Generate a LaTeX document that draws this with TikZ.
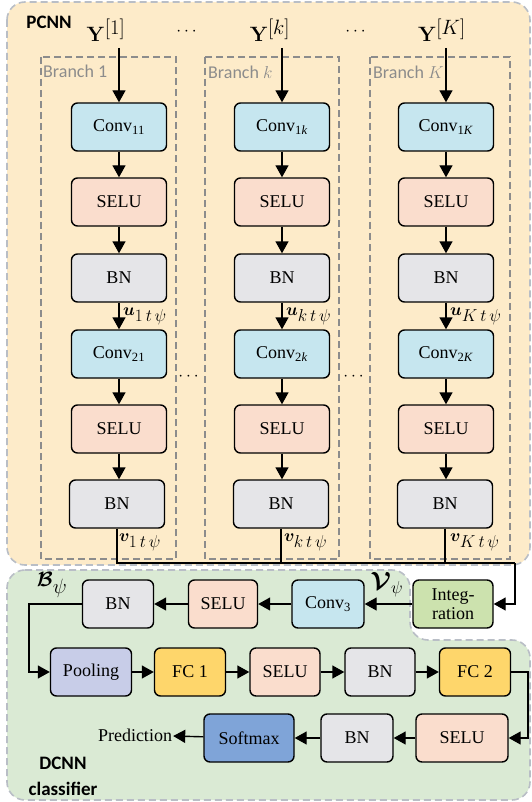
\documentclass[tikz,border=0pt]{standalone}
\usepackage[no-math]{fontspec}
\setmainfont{Liberation Serif}
\newfontfamily\labelfont{Carlito}
\usepackage{amsmath,bm}
\usetikzlibrary{arrows.meta}

\definecolor{pcnnbg}{HTML}{FDEBC9}
\definecolor{dcnnbg}{HTML}{DAEAD4}
\definecolor{convcol}{HTML}{C6E6EF}
\definecolor{selucol}{HTML}{FADDCD}
\definecolor{bncol}{HTML}{E5E5E8}
\definecolor{intcol}{HTML}{CCE2AE}
\definecolor{poolcol}{HTML}{C8CDE8}
\definecolor{fccol}{HTML}{FED66B}
\definecolor{softcol}{HTML}{7FA4D8}
\definecolor{regionline}{HTML}{B9BEC6}
\definecolor{branchline}{HTML}{8C8C8C}

\tikzset{
  block/.style={draw, line width=1.4pt, rounded corners=6pt, minimum width=95pt, minimum height=48pt, align=center, inner sep=2pt, font=\fontsize{18}{19}\selectfont},
  convblock/.style={block, fill=convcol},
  selublock/.style={block, fill=selucol},
  bnblock/.style={block, fill=bncol},
  flow/.style={-{Triangle[length=12pt,width=13pt]}, line width=1.4pt},
  wire/.style={line width=1.4pt},
  region/.style={draw=regionline, line width=1.6pt, dash pattern=on 7pt off 4pt, rounded corners=18pt},
  branchbox/.style={draw=branchline, line width=1.3pt, dash pattern=on 7pt off 4pt},
  branchlabel/.style={anchor=west, text=branchline, inner sep=0pt, font=\labelfont\fontsize{18}{20}\selectfont},
  mathlabel/.style={inner sep=0pt, font=\fontsize{18}{20}\selectfont},
  inputlabel/.style={inner sep=0pt, font=\fontsize{21}{23}\selectfont},
}

\begin{document}
\begin{tikzpicture}[x=1pt, y=-1pt]
\useasboundingbox (0,0) rectangle (531,802);

% regions
\fill[pcnnbg, rounded corners=18pt] (7,2) rectangle (530,565);
\draw[region] (7,2) rectangle (530,565);
\fill[dcnnbg, rounded corners=18pt] (7,570) -- (410,570) -- (410,640) -- (530,640) -- (530,800) -- (7,800) -- cycle;
\draw[region] (7,570) -- (410,570) -- (410,640) -- (530,640) -- (530,800) -- (7,800) -- cycle;

\node[inner sep=0pt, font=\labelfont\bfseries\fontsize{19}{21}\selectfont] (pcnn) at (49,22) {PCNN};
\node[align=center, inner sep=0pt, font=\labelfont\bfseries\fontsize{19}{26}\selectfont] (dcnn) at (63,776) {DCNN\\classifier};

% branches
\draw[branchbox] (41,57) rectangle (176,559);
\draw[branchbox] (205,57) rectangle (339,559);
\draw[branchbox] (370,57) rectangle (510,559);
\node[branchlabel] (lab1) at (43,71) {Branch 1};
\node[branchlabel] (labk) at (208,72) {Branch $k$};
\node[branchlabel] (labK) at (373,72) {Branch $K$};

% inputs
\node[inputlabel] (y1) at (106,30) {$\mathbf{Y}^{\textstyle[1]}$};
\node[inputlabel] (yk) at (270,30) {$\mathbf{Y}^{\textstyle[k]}$};
\node[inputlabel] (yK) at (442,30) {$\mathbf{Y}^{\textstyle[K]}$};
\node[mathlabel] (dots1) at (188,32) {$\cdots$};
\node[mathlabel] (dots2) at (357,32) {$\cdots$};
\node[mathlabel] (dots3) at (190,377) {$\cdots$};
\node[mathlabel] (dots4) at (355,377) {$\cdots$};
\coordinate (in1) at (119,48);
\coordinate (ink) at (282,48);
\coordinate (inK) at (446,48);

% branch 1
\node[convblock] (c11) at (119,127) {Conv\textsubscript{11}};
\node[selublock] (s11) at (119,202) {SELU};
\node[bnblock] (b11) at (119,278) {BN};
\node[convblock] (c21) at (119,354) {Conv\textsubscript{21}};
\node[selublock] (s21) at (119,429) {SELU};
\node[bnblock] (b21) at (117,504) {BN};

% branch k
\node[convblock] (c1k) at (282,127) {Conv\textsubscript{1\textit{k}}};
\node[selublock] (s1k) at (282,202) {SELU};
\node[bnblock] (b1k) at (282,278) {BN};
\node[convblock] (c2k) at (282,354) {Conv\textsubscript{2\textit{k}}};
\node[selublock] (s2k) at (282,429) {SELU};
\node[bnblock] (b2k) at (281,504) {BN};

% branch K
\node[convblock] (c1K) at (446,127) {Conv\textsubscript{1\textit{K}}};
\node[selublock] (s1K) at (446,202) {SELU};
\node[bnblock] (b1K) at (446,278) {BN};
\node[convblock] (c2K) at (446,354) {Conv\textsubscript{2\textit{K}}};
\node[selublock] (s2K) at (446,429) {SELU};
\node[bnblock] (b2K) at (445,504) {BN};

\draw[flow] (in1) -- (c11);
\draw[flow] (c11) -- (s11);
\draw[flow] (s11) -- (b11);
\draw[flow] (b11) -- (c21);
\draw[flow] (c21) -- (s21);
\draw[flow] (s21) -- (b21.north -| s21.south);
\draw[flow] (ink) -- (c1k);
\draw[flow] (c1k) -- (s1k);
\draw[flow] (s1k) -- (b1k);
\draw[flow] (b1k) -- (c2k);
\draw[flow] (c2k) -- (s2k);
\draw[flow] (s2k) -- (b2k.north -| s2k.south);
\draw[flow] (inK) -- (c1K);
\draw[flow] (c1K) -- (s1K);
\draw[flow] (s1K) -- (b1K);
\draw[flow] (b1K) -- (c2K);
\draw[flow] (c2K) -- (s2K);
\draw[flow] (s2K) -- (b2K.north -| s2K.south);

\node[mathlabel, anchor=west] (u1) at (123,316) {$\bm{u}_{\textstyle 1\,t\,\psi}$};
\node[mathlabel, anchor=west] (uk) at (286,316) {$\bm{u}_{\textstyle k\,t\,\psi}$};
\node[mathlabel, anchor=west] (uK) at (450,316) {$\bm{u}_{\textstyle K\,t\,\psi}$};
\node[mathlabel, anchor=west] (v1) at (119,542) {$\bm{v}_{\textstyle 1\,t\,\psi}$};
\node[mathlabel, anchor=west] (vk) at (284,542) {$\bm{v}_{\textstyle k\,t\,\psi}$};
\node[mathlabel, anchor=west] (vK) at (450,542) {$\bm{v}_{\textstyle K\,t\,\psi}$};

% DCNN classifier
\node[block, fill=intcol, minimum width=80pt] (integ) at (453,604) {Integ-\\ration};
\node[convblock, minimum width=72pt] (c3) at (328,604) {Conv\textsubscript{3}};
\node[selublock, minimum width=69pt] (s3) at (223,604) {SELU};
\node[bnblock, minimum width=71pt] (b3) at (118,604) {BN};
\node[inner sep=0pt, font=\fontsize{24}{26}\selectfont] (vpsi) at (387,585) {$\bm{\mathcal{V}}_{\psi}$};
\node[inner sep=0pt, font=\fontsize{21}{23}\selectfont] (bpsi) at (52,585) {$\bm{\mathcal{B}}_{\textstyle\psi}$};

\node[block, fill=poolcol, minimum width=81pt] (pool) at (91,672) {Pooling};
\node[block, fill=fccol, minimum width=71pt] (fc1) at (190,672) {FC 1};
\node[selublock, minimum width=70pt] (s4) at (285,672) {SELU};
\node[bnblock, minimum width=70pt] (b4) at (380,672) {BN};
\node[block, fill=fccol, minimum width=71pt] (fc2) at (475,672) {FC 2};

\node[selublock, minimum width=92pt] (s5) at (462,738) {SELU};
\node[bnblock, minimum width=72pt] (b5) at (357,738) {BN};
\node[block, fill=softcol, minimum width=90pt] (soft) at (249,738) {Softmax};
\node[inner sep=1pt, font=\fontsize{18}{20}\selectfont] (pred) at (135,735) {Prediction};

\coordinate (jright) at (515,563);
\coordinate (lturn) at (29,604);
\coordinate (rturn) at (528,672);

\draw[wire] (b21.south) |- (jright);
\draw[wire] (b2k.south) -- (b2k.south |- jright);
\draw[wire] (b2K.south) -- (b2K.south |- jright);
\draw[flow] (jright) |- (integ.east);
\draw[flow] (integ) -- (c3);
\draw[flow] (c3) -- (s3);
\draw[flow] (s3) -- (b3);
\draw[flow] (b3.west) -- (lturn) |- (pool.west);
\draw[flow] (pool) -- (fc1);
\draw[flow] (fc1) -- (s4);
\draw[flow] (s4) -- (b4);
\draw[flow] (b4) -- (fc2);
\draw[flow] (fc2.east) -- (rturn) |- (s5.east);
\draw[flow] (s5) -- (b5);
\draw[flow] (b5) -- (soft);
\draw[flow] (soft) -- (pred);
\end{tikzpicture}
\end{document}
